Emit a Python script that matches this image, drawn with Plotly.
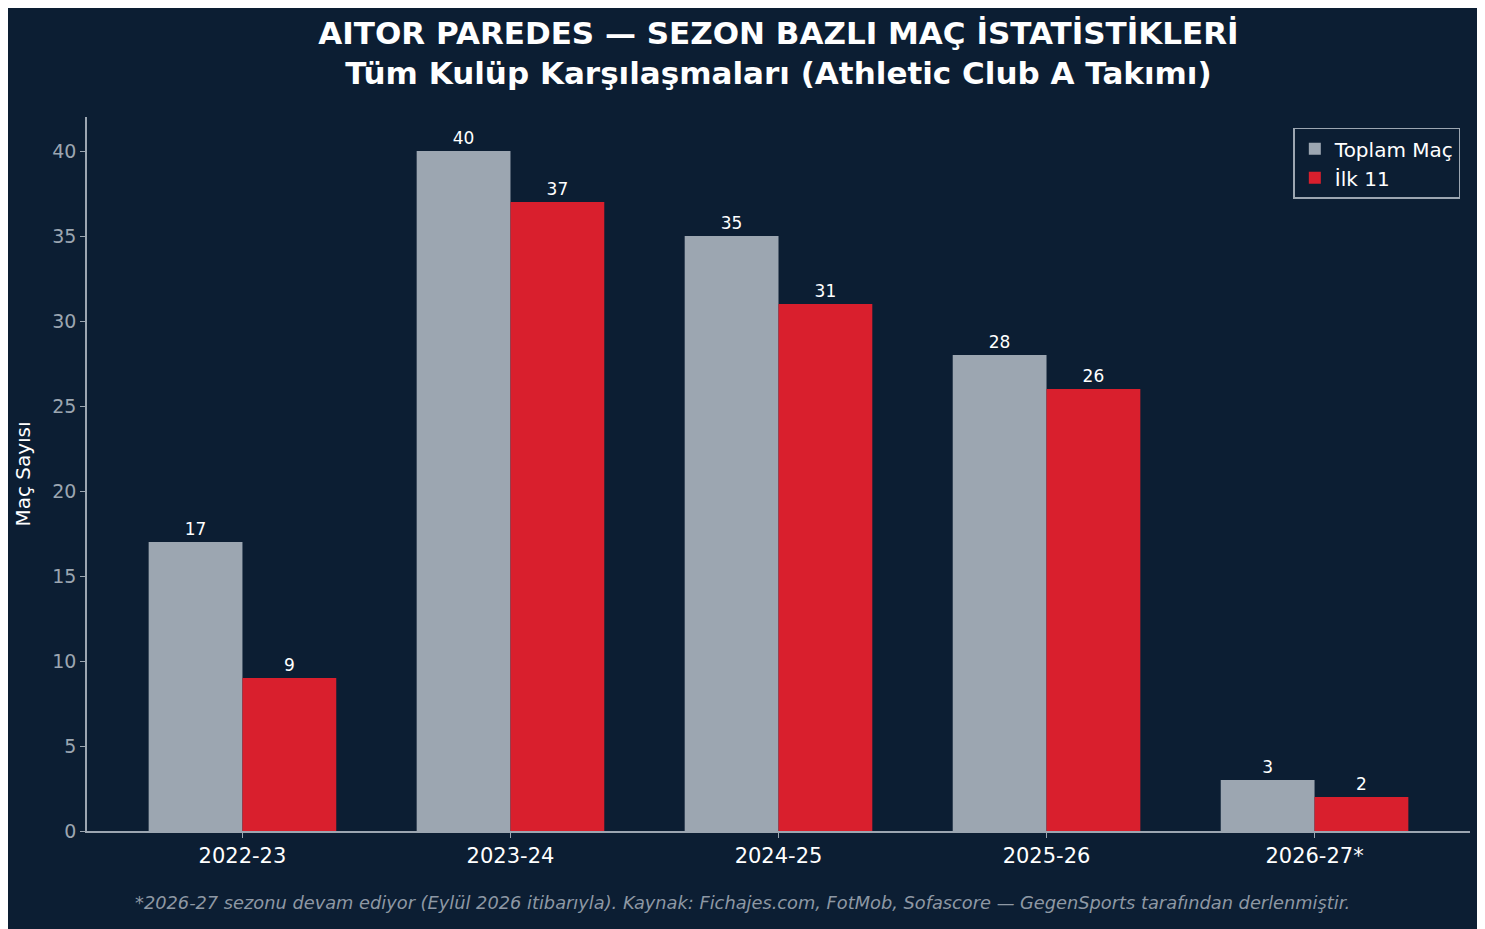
import plotly.graph_objects as go

seasons = ["2022-23", "2023-24", "2024-25", "2025-26", "2026-27*"]
total_apps = [17, 40, 35, 28, 3]
starts = [9, 37, 31, 26, 2]

bg = "#0c1e33"
font = "DejaVu Sans"

fig = go.Figure()
fig.add_trace(go.Bar(
    x=seasons, y=total_apps, name="Toplam Maç",
    marker=dict(color="#9ca6b1", line=dict(width=0)),
    text=total_apps, textposition="outside",
    textfont=dict(color="white", size=17, family=font), cliponaxis=False,
))
fig.add_trace(go.Bar(
    x=seasons, y=starts, name="İlk 11",
    marker=dict(color="#d91f2d", line=dict(width=0)),
    text=starts, textposition="outside",
    textfont=dict(color="white", size=17, family=font), cliponaxis=False,
))

fig.update_layout(
    width=1469, height=921,
    paper_bgcolor=bg, plot_bgcolor=bg,
    font=dict(family=font, color="white"),
    barmode="group", bargap=0.3, bargroupgap=0,
    margin=dict(l=79, r=7, t=109, b=98),
    title=dict(
        text="<b>AITOR PAREDES — SEZON BAZLI MAÇ İSTATİSTİKLERİ<br>Tüm Kulüp Karşılaşmaları (Athletic Club A Takımı)</b>",
        x=0.5, xref="paper", xanchor="center", y=0.961, yanchor="top",
        font=dict(size=31, color="white", family=font),
    ),
    xaxis=dict(
        range=[-0.58, 4.58], showgrid=False, ticks="outside", ticklen=5,
        tickcolor="#9ca6b1", showline=True, linecolor="#9ca6b1", linewidth=1.5,
        tickfont=dict(size=21, color="white"),
    ),
    yaxis=dict(
        range=[0, 42], dtick=5, showgrid=False, zeroline=False,
        ticks="outside", ticklen=5, tickcolor="#9ca6b1",
        showline=True, linecolor="#9ca6b1", linewidth=1.5,
        tickfont=dict(size=19, color="#9ca6b1"),
        title=dict(text="Maç Sayısı", font=dict(size=20, color="white"), standoff=16),
    ),
    legend=dict(
        x=0.993, y=0.985, xanchor="right", yanchor="top",
        bgcolor=bg, bordercolor="#9ca6b1", borderwidth=1.5,
        font=dict(size=20, color="white"),
    ),
    annotations=[dict(
        text="<i>*2026-27 sezonu devam ediyor (Eylül 2026 itibarıyla). Kaynak: Fichajes.com, FotMob, Sofascore — GegenSports tarafından derlenmiştir.</i>",
        x=(734 - 79) / 1383, xref="paper", y=-0.118, yref="paper", showarrow=False,
        font=dict(size=17.8, color="#8e98a4"),
    )],
)

fig.write_html("out.html")
